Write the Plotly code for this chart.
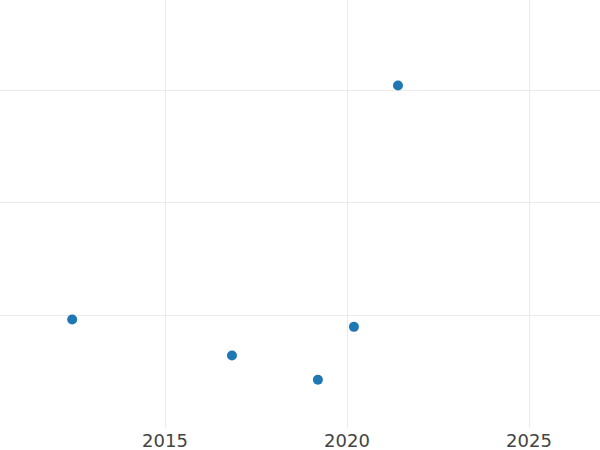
import plotly.graph_objects as go

years = [2012.45, 2016.84, 2019.20, 2020.19, 2021.40]
values = [9.6, 6.4, 4.25, 8.95, 30.4]

fig = go.Figure(go.Scatter(
    x=years, y=values, mode="markers",
    marker=dict(color="#1f77b4", size=10),
))
fig.update_layout(
    width=600, height=450,
    margin=dict(l=0, r=0, t=0, b=22),
    plot_bgcolor="white", paper_bgcolor="white",
    font=dict(family="DejaVu Sans", size=18, color="#444"),
    showlegend=False,
)
fig.update_xaxes(range=[2010.467, 2026.95], tickvals=[2015, 2020, 2025],
                 gridcolor="#ebebeb", showline=False, zeroline=False, ticks="")
fig.update_yaxes(range=[-0.04, 38], tickvals=[10, 20, 30], showticklabels=False,
                 gridcolor="#ebebeb", showline=False, zeroline=False, ticks="")
fig.write_html("out.html", config={"displayModeBar": False},
               post_script="document.body.style.margin='0';")
